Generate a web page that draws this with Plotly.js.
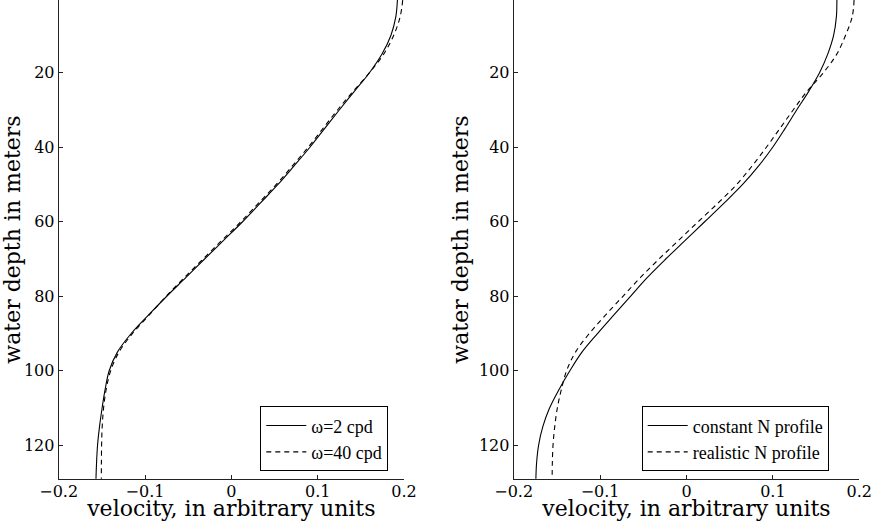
<!DOCTYPE html>
<html>
<head>
<meta charset="utf-8">
<script src="https://cdn.plot.ly/plotly-3.0.1.min.js"></script>
<style>html,body{margin:0;padding:0;background:#fff;}</style>
</head>
<body>
<div id="chart" style="width:872px;height:521px;"></div>
<script>
// depth grid (m)
var depth = [0.5, 5, 10, 15, 20, 25, 30, 35, 40, 45, 50, 55, 60, 65, 70, 75, 80, 85, 90, 95, 100, 105, 110, 115, 120, 125, 129];

// left panel: frequency comparison
var omega2 = [0.1924, 0.1905, 0.1848, 0.1745, 0.1600, 0.1425, 0.1250, 0.1080, 0.0910, 0.0727, 0.0540, 0.0335, 0.0130, -0.0090, -0.0310, -0.0528, -0.0748, -0.0958, -0.1160, -0.1320, -0.1415, -0.1462, -0.1497, -0.1527, -0.1550, -0.1562, -0.1568];
var omega40 = [0.1985, 0.1955, 0.1880, 0.1765, 0.1600, 0.1410, 0.1230, 0.1060, 0.0890, 0.0707, 0.0520, 0.0315, 0.0110, -0.0110, -0.0328, -0.0545, -0.0755, -0.0950, -0.1145, -0.1302, -0.1398, -0.1450, -0.1480, -0.1496, -0.1503, -0.1505, -0.1506];

// right panel: stratification comparison
var constN = [0.1741, 0.1735, 0.1703, 0.1635, 0.1540, 0.1415, 0.1275, 0.1140, 0.0998, 0.0835, 0.0650, 0.0435, 0.0210, -0.0015, -0.0240, -0.0455, -0.0648, -0.0840, -0.1030, -0.1210, -0.1350, -0.1475, -0.1585, -0.1663, -0.1712, -0.1736, -0.1743];
var realN = [0.1940, 0.1918, 0.1840, 0.1740, 0.1585, 0.1395, 0.1235, 0.1080, 0.0925, 0.0760, 0.0580, 0.0365, 0.0135, -0.0092, -0.0318, -0.0535, -0.0735, -0.0935, -0.1125, -0.1285, -0.1388, -0.1448, -0.1495, -0.1525, -0.1545, -0.1553, -0.1555];

var names = ['\u03c9=2 cpd', '\u03c9=40 cpd', 'constant N profile', 'realistic N profile'];
var xTicks = [-0.2, -0.1, 0, 0.1, 0.2];
var yTicks = [20, 40, 60, 80, 100, 120];
var xTitle = 'velocity, in arbitrary units';
var yTitle = 'water depth in meters';

var solid = {color: '#000', width: 1.1, shape: 'spline', smoothing: 1};
var dashed = {color: '#000', width: 1.1, dash: '5px,4px', shape: 'spline', smoothing: 1};

var traces = [
  {x: omega2, y: depth, xaxis: 'x', yaxis: 'y', mode: 'lines', name: names[0], line: solid, legend: 'legend'},
  {x: omega40, y: depth, xaxis: 'x', yaxis: 'y', mode: 'lines', name: names[1], line: dashed, legend: 'legend'},
  {x: constN, y: depth, xaxis: 'x2', yaxis: 'y2', mode: 'lines', name: names[2], line: solid, legend: 'legend2'},
  {x: realN, y: depth, xaxis: 'x2', yaxis: 'y2', mode: 'lines', name: names[3], line: dashed, legend: 'legend2'}
];

var serif = 'DejaVu Serif, Liberation Serif, serif';
var tickFont = {family: serif, size: 16, color: '#000'};
var titleFont = {family: serif, size: 22, color: '#000'};

function xax(dom, anchor) {
  return {domain: dom, anchor: anchor, range: [-0.2, 0.2], tickvals: xTicks, ticks: 'inside', ticklen: 4,
    tickcolor: '#222', showline: true, linecolor: '#222', linewidth: 1, showgrid: false, zeroline: false,
    ticklabelstandoff: -2,
    tickfont: tickFont, title: {text: xTitle, font: titleFont, standoff: 0}, fixedrange: true};
}
function yax(anchor) {
  return {domain: [0.0806, 1], anchor: anchor, range: [129.05, 0.48], tickvals: yTicks, ticks: 'inside', ticklen: 4,
    tickcolor: '#222', showline: true, linecolor: '#222', linewidth: 1, showgrid: false, zeroline: false,
    tickfont: tickFont, title: {text: yTitle, font: titleFont, standoff: 4}, fixedrange: true};
}

var legendBase = {xanchor: 'left', yanchor: 'top', bordercolor: '#000', borderwidth: 1, bgcolor: '#fff',
  font: {family: 'Liberation Serif', size: 18, color: '#000'}, tracegroupgap: 0, itemwidth: 40};

var layout = {
  width: 872, height: 521,
  margin: {l: 0, r: 0, t: 0, b: 0},
  paper_bgcolor: '#fff', plot_bgcolor: '#fff',
  showlegend: true,
  xaxis: xax([0.0673, 0.4633], 'y'),
  yaxis: yax('x'),
  xaxis2: xax([0.5891, 0.9854], 'y2'),
  yaxis2: yax('x2'),
  legend: Object.assign({}, legendBase, {x: 0.2985, y: 0.2202}),
  legend2: Object.assign({}, legendBase, {x: 0.7359, y: 0.2202})
};

Plotly.newPlot('chart', traces, layout, {displayModeBar: false, staticPlot: true});
</script>
</body>
</html>
